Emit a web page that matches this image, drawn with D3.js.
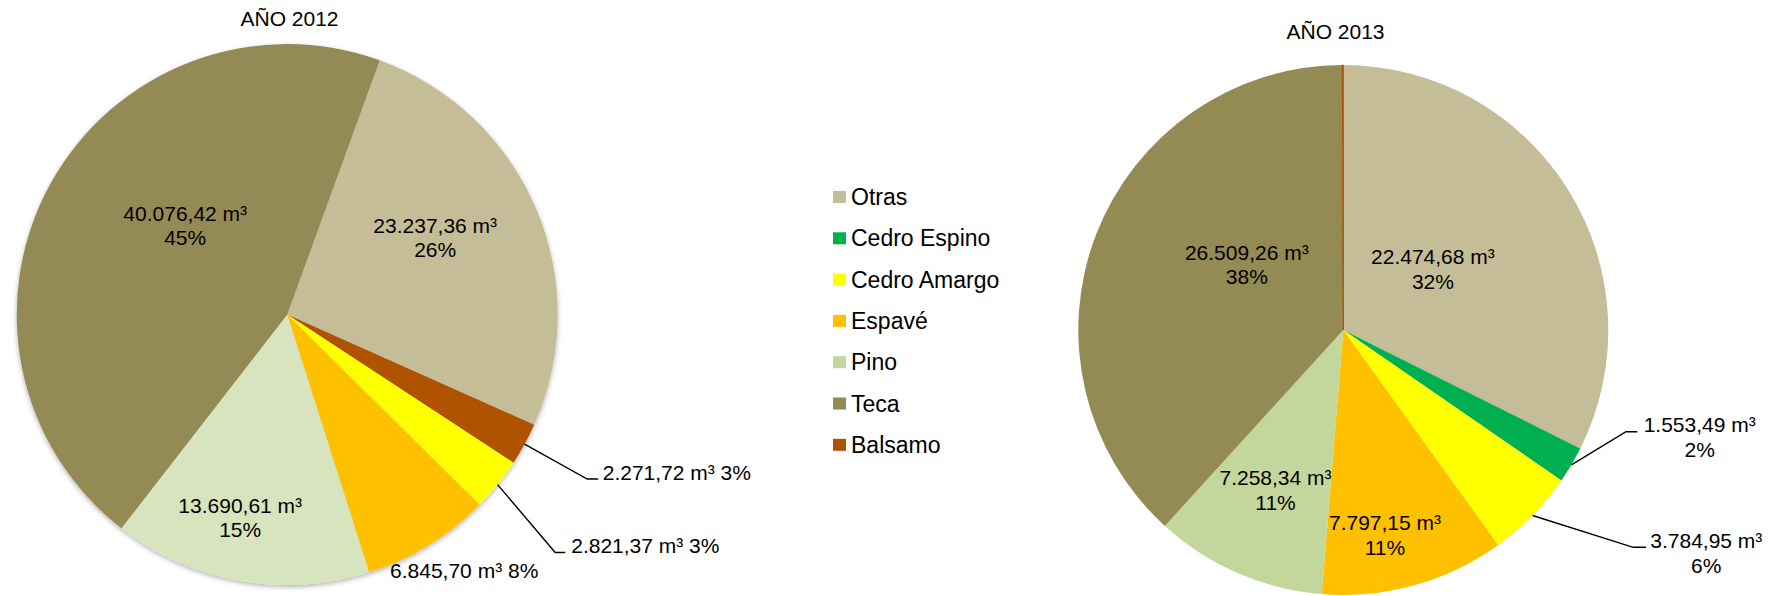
<!DOCTYPE html>
<html lang="es">
<head>
    <meta charset="UTF-8">
    <title>Volumen por especie 2012 - 2013</title>
    <script src="https://d3js.org/d3.v7.min.js"></script>
    <style>
        html, body {
            margin: 0;
            padding: 0;
            background: #fff;
        }
        svg {
            display: block;
            font-family: "Liberation Sans", Arial, sans-serif;
        }
    </style>
</head>
<body>
    <svg id="chart" width="1782" height="596"></svg>

    <script>
        // legend / category order
        const categories = ["Otras", "Cedro Espino", "Cedro Amargo", "Espavé", "Pino", "Teca", "Balsamo"];
        const categoryColors = ["#C4BD97", "#00B050", "#FFFF00", "#FFC000", "#C3D69B", "#948A54", "#B05206"];

        // AÑO 2012 (drawing order, clockwise)
        const species2012 = ["Otras", "Balsamo", "Cedro Amargo", "Espavé", "Pino", "Teca"];
        const values2012 = [23237.36, 2271.72, 2821.37, 6845.70, 13690.61, 40076.42];
        const percent2012 = ["26%", "3%", "3%", "8%", "15%", "45%"];

        // AÑO 2013
        const species2013 = ["Otras", "Cedro Espino", "Cedro Amargo", "Espavé", "Pino", "Teca", "Balsamo"];
        const values2013 = [22474.68, 1553.49, 3784.95, 7797.15, 7258.34, 26509.26, 40];
        const percent2013 = ["32%", "2%", "6%", "11%", "11%", "38%", ""];

        const svg = d3.select("#chart");
        const color = d3.scaleOrdinal(categories, categoryColors);
        const es = d3.formatLocale({ decimal: ",", thousands: ".", grouping: [3], currency: ["", ""] });
        const fmt = es.format(",.2f");

        const defs = svg.append("defs");
        defs.append("filter")
            .attr("id", "shadow")
            .attr("x", "-10%").attr("y", "-10%")
            .attr("width", "120%").attr("height", "120%")
            .append("feDropShadow")
            .attr("dx", 0).attr("dy", 2)
            .attr("stdDeviation", 2.5)
            .attr("flood-color", "#000")
            .attr("flood-opacity", 0.3);

        // label placement, relative to pie centre
        // in: two (or one) lines inside;  out: leader line + text
        const labels2012 = [
            { type: "in", dx: 148, dy: -77 },
            { type: "out", elbow: [300, 164.5], end: [311, 164.5], tx: 315.5, ty: 165, oneLine: true },
            { type: "out", elbow: [268, 238], end: [278, 238], tx: 284, ty: 238, oneLine: true },
            { type: "in", dx: 177, dy: 256, oneLine: true },
            { type: "in", dx: -47, dy: 203 },
            { type: "in", dx: -102, dy: -89 }
        ];
        const labels2013 = [
            { type: "in", dx: 89.6, dy: -61 },
            { type: "out", elbow: [282.7, 101.7], end: [294, 101.7], tx: 356.4, ty: 102.3, anchor: "middle" },
            { type: "out", elbow: [290, 217.3], end: [302.7, 217.3], tx: 363, ty: 218.3, anchor: "middle" },
            { type: "in", dx: 41.7, dy: 205 },
            { type: "in", dx: -67.8, dy: 160 },
            { type: "in", dx: -96.5, dy: -65.8 },
            { type: "none" }
        ];

        function drawPie(cfg) {
            const g = svg.append("g")
                .attr("transform", `translate(${cfg.cx},${cfg.cy})`);

            const pie = d3.pie()
                .sort(null)
                .value(d => d.value)
                .startAngle(cfg.start * Math.PI / 180)
                .endAngle(cfg.start * Math.PI / 180 + 2 * Math.PI);

            const arc = d3.arc().innerRadius(0).outerRadius(cfg.r);
            const edge = d3.arc().innerRadius(cfg.r).outerRadius(cfg.r);

            const data = cfg.species.map((s, i) => ({
                name: s, value: cfg.values[i], pct: cfg.pcts[i], label: cfg.labels[i]
            }));
            const arcs = pie(data);

            const slices = g.append("g").attr("filter", cfg.shadow ? "url(#shadow)" : null);
            slices.selectAll("path")
                .data(arcs)
                .enter()
                .append("path")
                .attr("d", arc)
                .attr("fill", d => (cfg.override && cfg.override[d.data.name]) || color(d.data.name))
                .attr("stroke", d => d.data.name === "Balsamo" && d.value < 100 ? color("Balsamo") : "none")
                .attr("stroke-width", 1);

            arcs.forEach(a => {
                const lb = a.data.label;
                if (lb.type === "none") return;
                const v = fmt(a.data.value) + " m³";
                if (lb.type === "in") {
                    const t = g.append("text")
                        .attr("text-anchor", "middle")
                        .attr("font-size", 21)
                        .attr("fill", "#000");
                    if (lb.oneLine) {
                        t.append("tspan").attr("x", lb.dx).attr("y", lb.dy + 7.5)
                            .text(v + " " + a.data.pct);
                    } else {
                        t.append("tspan").attr("x", lb.dx).attr("y", lb.dy - 12.2 + 7.5).text(v);
                        t.append("tspan").attr("x", lb.dx).attr("y", lb.dy + 12.2 + 7.5).text(a.data.pct);
                    }
                } else {
                    const p = edge.centroid(a);
                    g.append("path")
                        .attr("d", d3.line()([p, lb.elbow, lb.end]))
                        .attr("fill", "none")
                        .attr("stroke", "#000")
                        .attr("stroke-width", 1.4);
                    const t = g.append("text")
                        .attr("text-anchor", lb.anchor || "start")
                        .attr("font-size", 21)
                        .attr("fill", "#000");
                    if (lb.oneLine) {
                        t.append("tspan").attr("x", lb.tx).attr("y", lb.ty).text(v + " " + a.data.pct);
                    } else {
                        t.append("tspan").attr("x", lb.tx).attr("y", lb.ty).text(v);
                        t.append("tspan").attr("x", lb.tx).attr("y", lb.ty + 24.5).text(a.data.pct);
                    }
                }
            });

            svg.append("text")
                .attr("x", cfg.tx)
                .attr("y", cfg.ty)
                .attr("text-anchor", "middle")
                .attr("font-size", 21)
                .attr("fill", "#000")
                .text(cfg.title);
        }

        drawPie({
            title: "AÑO 2012", tx: 289.5, ty: 26,
            cx: 287.2, cy: 314.5, r: 270.5, start: 20,
            species: species2012, values: values2012, pcts: percent2012, labels: labels2012,
            override: { "Pino": "#D7E4BD" }, shadow: true
        });

        drawPie({
            title: "AÑO 2013", tx: 1335.5, ty: 38.5,
            cx: 1343.3, cy: 330, r: 265, start: 0,
            species: species2013, values: values2013, pcts: percent2013, labels: labels2013,
            shadow: false
        });

        // legend
        const legend = svg.append("g").attr("transform", "translate(833,197)");
        const rows = legend.selectAll("g")
            .data(categories)
            .enter()
            .append("g")
            .attr("transform", (d, i) => `translate(0,${i * 41.3})`);
        rows.append("rect")
            .attr("x", 0).attr("y", -6)
            .attr("width", 13).attr("height", 12)
            .attr("fill", d => color(d));
        rows.append("text")
            .attr("x", 18)
            .attr("y", 8)
            .attr("font-size", 23)
            .attr("fill", "#000")
            .text(d => d);
    </script>
</body>
</html>
